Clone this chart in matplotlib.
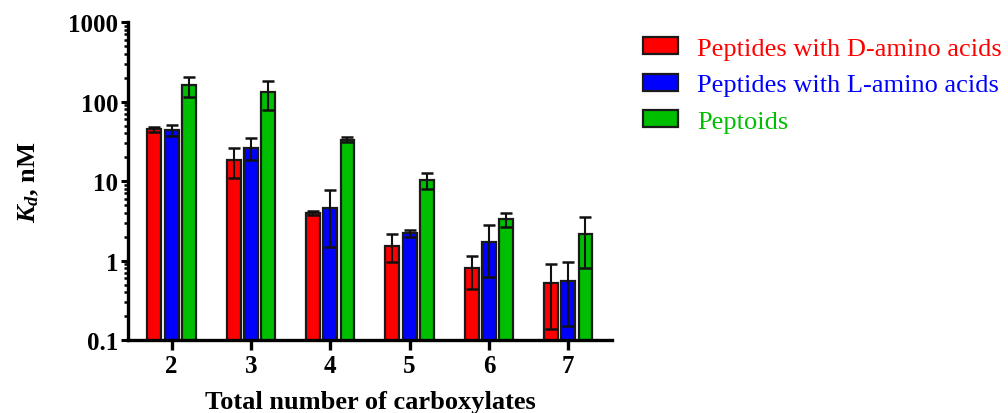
import numpy as np
import matplotlib
matplotlib.use("Agg")
import matplotlib.pyplot as plt
from matplotlib.ticker import LogLocator, FixedFormatter, FixedLocator, NullFormatter

plt.rcParams["font.family"] = ["Liberation Serif", "DejaVu Serif"]
plt.rcParams["mathtext.fontset"] = "custom"
plt.rcParams["mathtext.it"] = "Liberation Serif:italic:bold"
plt.rcParams["mathtext.rm"] = "Liberation Serif:bold"
plt.rcParams["mathtext.bf"] = "Liberation Serif:bold"

categories = ["2", "3", "4", "5", "6", "7"]
series_names = ["Peptides with D-amino acids", "Peptides with L-amino acids", "Peptoids"]
d_peptides = [45, 18.5, 4.0, 1.55, 0.80, 0.52]
d_peptides_sd = [3, 7.5, 0.2, 0.6, 0.36, 0.38]
l_peptides = [44, 26.5, 4.6, 2.2, 1.73, 0.55]
l_peptides_sd = [7, 8, 3.1, 0.22, 1.1, 0.40]
peptoids = [160, 131, 33.4, 10.2, 3.35, 2.17]
peptoids_sd = [45, 52, 2.3, 2.3, 0.67, 1.37]
colors = ["#ff0000", "#0000ff", "#00bf00"]
y_ticks = [0.1, 1, 10, 100, 1000]
y_tick_labels = ["0.1", "1", "10", "100", "1000"]

fig = plt.figure(figsize=(10.08, 4.14), dpi=100)
ax = fig.add_axes([0.127, 0.176, 0.48, 0.768])

x = np.arange(len(categories))
width = 0.175
offset = 0.217
values = [d_peptides, l_peptides, peptoids]
errors = [d_peptides_sd, l_peptides_sd, peptoids_sd]
handles = []
for i, (vals, errs, col, name) in enumerate(zip(values, errors, colors, series_names)):
    pos = x + (i - 1) * offset
    b = ax.bar(pos, vals, width, color=col, edgecolor="#1a1a1a",
               linewidth=1.6, label=name, zorder=2)
    ax.errorbar(pos, vals, yerr=errs, fmt="none", ecolor="#111111",
                elinewidth=1.5, capsize=4, capthick=1.8, zorder=3)
    handles.append(b)

ax.set_yscale("log")
ax.set_ylim(0.1, 1000)
ax.set_xlim(-0.55, 5.55)
ax.yaxis.set_major_locator(FixedLocator(y_ticks))
ax.yaxis.set_major_formatter(FixedFormatter(y_tick_labels))
ax.yaxis.set_minor_locator(LogLocator(base=10, subs=np.arange(2, 10)))
ax.yaxis.set_minor_formatter(NullFormatter())
ax.set_xticks(x)
ax.set_xticklabels(categories)

for side in ["top", "right"]:
    ax.spines[side].set_visible(False)
for side in ["left", "bottom"]:
    ax.spines[side].set_linewidth(2.4)
    ax.spines[side].set_color("black")

ax.tick_params(axis="x", which="major", direction="out", length=7, width=2.4,
               labelsize=18, pad=3)
ax.tick_params(axis="y", which="major", direction="out", length=5, width=2.2,
               labelsize=18, pad=2)
ax.tick_params(axis="y", which="minor", direction="out", length=3, width=1.8)
for lab in ax.get_xticklabels() + ax.get_yticklabels():
    lab.set_fontweight("bold")

ax.set_xlabel("Total number of carboxylates", fontsize=19, fontweight="bold", labelpad=9)
ax.set_ylabel(r"$K_d$, nM", fontsize=19, fontweight="bold", labelpad=20)

leg = fig.legend(handles=handles, labels=series_names, loc="upper left",
                 bbox_to_anchor=(0.638, 0.908), frameon=False, fontsize=19,
                 handlelength=1.33, handleheight=0.6, handletextpad=0.72,
                 labelspacing=0.53, borderaxespad=0, borderpad=0)
for txt, col in zip(leg.get_texts(), colors):
    txt.set_color(col)

fig.savefig("out.png", dpi=100)
